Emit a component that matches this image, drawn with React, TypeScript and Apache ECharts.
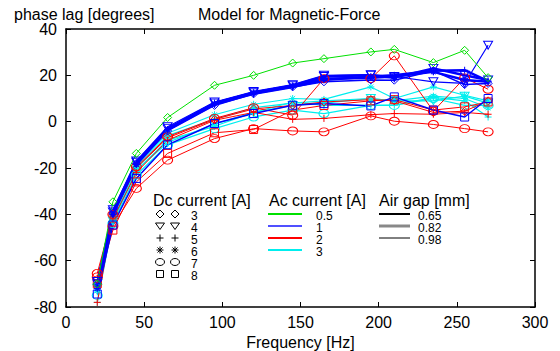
import React, { useEffect, useRef } from "react";
import * as echarts from "echarts";

// ---- data ----
const freqs = [20, 30, 45, 65, 95, 120, 145, 165, 195, 210, 235, 255, 270];

const green_dc3 = [-70, -34.6, -13.7, 1.8, 15.7, 20, 25.3, 27.2, 30.1, 31.2, 25.5, 30.8, 19];

const blue_dc4a = [-69, -38, -17, -2.2, 8.5, 13, 16, 20, 20.3, 19.5, 17.2, 16.5, 33];
const blue_dc4b = [-70, -39, -17.5, -3, 8, 12.5, 15.5, 19.5, 20, 19, 23, 20, 18];
const blue_dc5 = [-71, -40, -18, -3.5, 7.5, 12, 15, 18, 19.5, 20, 22, 22.2, 17.5];
const blue_dc3 = [-70, -39.5, -18, -4, 7, 12, 15, 17.2, 18, 17.9, 22, 16, 16.5];
const blue_dc6 = [-72, -40, -18.5, -3.5, 8, 12.5, 15.5, 18.5, 19, 19.5, 21.5, 18, 17.2];
const blue_dc8 = [-74.4, -44.6, -24.5, -10, -0.8, 3.5, 7.1, 7.8, 6.8, 10.7, 5, 2, 10];

const red_dc7a = [-65.5, -40, -19.5, -6.5, 1.4, 6, 2.8, 18.6, 18.6, 28.4, 4.5, 18.9, 14];
const red_dc7b = [-67, -45, -28.8, -16.6, -7.3, -3, -4, -4.4, 2.5, 0.2, -1.2, -3, -4.4];
const red_dc8 = [-70, -46.8, -26, -13.7, -4.8, -3.4, 5, 7, 9, 9.5, 5, 6.4, 8.5];
const red_dc5 = [-78, -42, -22, -8, 0.6, 4, 1, 1.4, 3, 3.5, 3.2, 4, 3.2];
const red_dc3 = [-68, -40, -20, -7, 1, 5.5, 7, 8.5, 9.5, 9, 4, 4.5, 9];

const cyan_dc6a = [-72, -42, -19, -5, 3, 7.5, 10, 9.6, 15, 10, 15, 11.4, 9];
const cyan_dc5 = [-78, -43, -21, -8, -2, 4, 8.5, 7, 7, 7.1, 10.5, 9, 2];
const cyan_dc7 = [-75, -44, -23, -10, -3, 2, 5, 3.5, 7, 7, 10, 7, 7];
const cyan_dc6b = [-73, -42, -20, -6, 1, 6, 8, 9, 10, 9, 11, 10, 6];
const cyan_dc4 = [-72, -43, -21, -9, -1, 4, 7, 8, 10, 9, 9, 11, 8];

const dcLabels = ["3", "4", "5", "6", "7", "8"];
const acLabels = ["0.5", "1", "2", "3"];
const gapLabels = ["0.65", "0.82", "0.98"];

// ---- styles ----
const GREEN = "#00e000";
const BLUE = "#0000ff";
const RED = "#ff0000";
const CYAN = "#00eeee";

const SYM: Record<string, string> = {
  diamond: "path://M5,0L10,5L5,10L0,5Z",
  tri: "path://M0,0L10,0L5,8.66Z",
  plus: "path://M0,5L10,5M5,0L5,10",
  star: "path://M0,5L10,5M5,0L5,10M1.5,1.5L8.5,8.5M8.5,1.5L1.5,8.5",
  circle: "path://M0,5A5,5,0,1,1,10,5A5,5,0,1,1,0,5Z",
  square: "path://M0,0L10,0L10,10L0,10Z",
};
const SYMSIZE: Record<string, number[]> = {
  diamond: [8, 8],
  tri: [9, 8],
  plus: [7, 7],
  star: [7, 7],
  circle: [10, 8],
  square: [8, 8],
};

const specs = [
  { name: "c6a", data: cyan_dc6a, color: CYAN, sym: "star", width: 1.2 },
  { name: "c5", data: cyan_dc5, color: CYAN, sym: "plus", width: 1.2 },
  { name: "c7", data: cyan_dc7, color: CYAN, sym: "circle", width: 1.2 },
  { name: "c6b", data: cyan_dc6b, color: CYAN, sym: "star", width: 1.2 },
  { name: "c4", data: cyan_dc4, color: CYAN, sym: "tri", width: 1.2 },
  { name: "r7a", data: red_dc7a, color: RED, sym: "circle", width: 1 },
  { name: "r7b", data: red_dc7b, color: RED, sym: "circle", width: 1 },
  { name: "r8", data: red_dc8, color: RED, sym: "square", width: 1 },
  { name: "r5", data: red_dc5, color: RED, sym: "plus", width: 1 },
  { name: "r3", data: red_dc3, color: RED, sym: "diamond", width: 1 },
  { name: "b8", data: blue_dc8, color: BLUE, sym: "square", width: 1.5 },
  { name: "b3", data: blue_dc3, color: BLUE, sym: "diamond", width: 1.5 },
  { name: "b4a", data: blue_dc4a, color: BLUE, sym: "tri", width: 1.2 },
  { name: "b4b", data: blue_dc4b, color: BLUE, sym: "tri", width: 2.5 },
  { name: "b5", data: blue_dc5, color: BLUE, sym: "plus", width: 2.5 },
  { name: "b6", data: blue_dc6, color: BLUE, sym: "star", width: 2.5 },
  { name: "g3", data: green_dc3, color: GREEN, sym: "diamond", width: 1 },
];

const FONT = '"Liberation Sans", Arial, sans-serif';

function legendMarker(kind: string, cx: number, cy: number): any[] {
  const st = { stroke: "#000", fill: "none", lineWidth: 1 };
  switch (kind) {
    case "diamond":
      return [{ type: "polygon", shape: { points: [[cx, cy - 4], [cx + 4, cy], [cx, cy + 4], [cx - 4, cy]] }, style: st }];
    case "tri":
      return [{ type: "polygon", shape: { points: [[cx - 4.5, cy - 3], [cx + 4.5, cy - 3], [cx, cy + 3.5]] }, style: st }];
    case "plus":
      return [
        { type: "line", shape: { x1: cx - 3.5, y1: cy, x2: cx + 3.5, y2: cy }, style: st },
        { type: "line", shape: { x1: cx, y1: cy - 3.5, x2: cx, y2: cy + 3.5 }, style: st },
      ];
    case "star":
      return [
        { type: "line", shape: { x1: cx - 3.5, y1: cy, x2: cx + 3.5, y2: cy }, style: st },
        { type: "line", shape: { x1: cx, y1: cy - 3.5, x2: cx, y2: cy + 3.5 }, style: st },
        { type: "line", shape: { x1: cx - 2.5, y1: cy - 2.5, x2: cx + 2.5, y2: cy + 2.5 }, style: st },
        { type: "line", shape: { x1: cx + 2.5, y1: cy - 2.5, x2: cx - 2.5, y2: cy + 2.5 }, style: st },
      ];
    case "circle":
      return [{ type: "ellipse", shape: { cx, cy, rx: 4.5, ry: 3.5 }, style: st }];
    default:
      return [{ type: "rect", shape: { x: cx - 3.5, y: cy - 3.5, width: 7, height: 7 }, style: st }];
  }
}

function txt(text: string, x: number, y: number, size = 16, lineHeight?: number): any {
  const style: any = { text, fill: "#000", font: `${size}px ${FONT}`, textAlign: "left", textVerticalAlign: "middle" };
  if (lineHeight) style.lineHeight = lineHeight;
  return { type: "text", x, y, style };
}

function buildGraphic(): any[] {
  const g: any[] = [];
  g.push(txt("phase lag [degrees]", 14, 14));
  g.push(txt("Model for Magnetic-Force", 198, 14));

  // Dc current legend
  g.push(txt("Dc current [A]", 153, 200));
  const kinds = ["diamond", "tri", "plus", "star", "circle", "square"];
  const rows = [214, 226, 238, 250, 262, 274];
  kinds.forEach((k, i) => {
    g.push(...legendMarker(k, 160, rows[i]));
    g.push(...legendMarker(k, 175, rows[i]));
    g.push(txt(dcLabels[i], 191, rows[i] + 1.5, 12, 11));
  });

  // Ac current legend
  g.push(txt("Ac current [A]", 269, 200));
  const acColors = [GREEN, "#5050ff", RED, CYAN];
  const acRows = [214, 226, 238, 250];
  acColors.forEach((c, i) => {
    g.push({ type: "line", shape: { x1: 268, y1: acRows[i], x2: 302, y2: acRows[i] }, style: { stroke: c, lineWidth: 2 } });
    g.push(txt(acLabels[i], 316, acRows[i] + 2, 12, 11));
  });

  // Air gap legend
  g.push(txt("Air gap [mm]", 379, 200));
  const gapStyles = [
    { c: "#000", w: 2 },
    { c: "#888", w: 3 },
    { c: "#000", w: 1 },
  ];
  gapStyles.forEach((s, i) => {
    g.push({ type: "line", shape: { x1: 379, y1: acRows[i], x2: 410, y2: acRows[i] }, style: { stroke: s.c, lineWidth: s.w } });
    g.push(txt(gapLabels[i], 418, acRows[i] + 2, 12, 11));
  });
  return g;
}

export default function App() {
  const ref = useRef<HTMLDivElement>(null);
  useEffect(() => {
    const chart = echarts.init(ref.current!, null, { renderer: "svg" });
    const axisLine = { onZero: false, lineStyle: { color: "#000", width: 1.5 } };
    const axisTick = { inside: true, length: 5, lineStyle: { color: "#000", width: 1 } };
    const option: any = {
      animation: false,
      backgroundColor: "#fff",
      textStyle: { fontFamily: FONT },
      grid: { left: 66, right: 25, top: 29, bottom: 44, outerBoundsMode: "none", containLabel: false },
      xAxis: [
        {
          type: "value",
          min: 0,
          max: 300,
          interval: 50,
          position: "bottom",
          axisLine,
          axisTick,
          axisLabel: { fontSize: 16, color: "#000", margin: 7, fontFamily: FONT },
          splitLine: { show: false },
          name: "Frequency [Hz]",
          nameLocation: "middle",
          nameGap: 25,
          nameTextStyle: { fontSize: 16, color: "#000", fontFamily: FONT },
        },
        {
          type: "value",
          min: 0,
          max: 300,
          interval: 50,
          position: "top",
          axisLine,
          axisTick,
          axisLabel: { show: false },
          splitLine: { show: false },
        },
      ],
      yAxis: [
        {
          type: "value",
          min: -80,
          max: 40,
          interval: 20,
          position: "left",
          axisLine: { show: true, ...axisLine },
          axisTick: { show: true, ...axisTick },
          axisLabel: { fontSize: 16, color: "#000", margin: 9, fontFamily: FONT },
          splitLine: { show: false },
        },
        {
          type: "value",
          min: -80,
          max: 40,
          interval: 20,
          position: "right",
          axisLine: { show: true, ...axisLine },
          axisTick: { show: true, ...axisTick },
          axisLabel: { show: false },
          splitLine: { show: false },
        },
      ],
      series: specs.map((s) => ({
        type: "line",
        name: s.name,
        xAxisIndex: 0,
        yAxisIndex: 0,
        data: freqs.map((f, i) => [f, s.data[i]]),
        symbol: SYM[s.sym],
        symbolSize: SYMSIZE[s.sym],
        showSymbol: true,
        lineStyle: { color: s.color, width: s.width },
        itemStyle: { color: "none", borderColor: s.color, borderWidth: 1 },
        emphasis: { disabled: true },
        z: 2,
      })),
      graphic: buildGraphic(),
    };
    chart.setOption(option);
    return () => chart.dispose();
  }, []);
  return <div ref={ref} style={{ position: "fixed", left: 0, top: 0, width: 560, height: 351 }} />;
}
